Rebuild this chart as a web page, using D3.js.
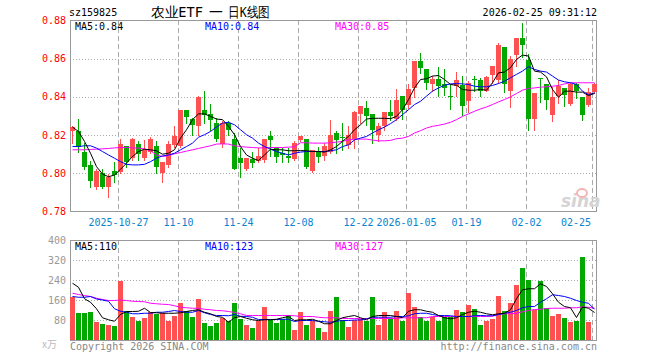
<!DOCTYPE html>
<html><head><meta charset="utf-8">
<script src="https://cdn.jsdelivr.net/npm/d3@7/dist/d3.min.js"></script>
<style>
html,body{margin:0;padding:0;background:#fff;}
svg{display:block;}
text{font-family:"DejaVu Sans Mono",monospace;}
</style></head><body>
<svg id="chart" width="660" height="360"></svg>
<script>
// ---------- DATA ----------
const dates = [
"2025-10-15","2025-10-16","2025-10-17","2025-10-20","2025-10-21","2025-10-22","2025-10-23","2025-10-24","2025-10-27","2025-10-28","2025-10-29","2025-10-30","2025-10-31",
"2025-11-03","2025-11-04","2025-11-05","2025-11-06","2025-11-07","2025-11-10","2025-11-11","2025-11-12","2025-11-13","2025-11-14","2025-11-17","2025-11-18","2025-11-19","2025-11-20","2025-11-21","2025-11-24","2025-11-25","2025-11-26","2025-11-27","2025-11-28",
"2025-12-01","2025-12-02","2025-12-03","2025-12-04","2025-12-05","2025-12-08","2025-12-09","2025-12-10","2025-12-11","2025-12-12","2025-12-15","2025-12-16","2025-12-17","2025-12-18","2025-12-19","2025-12-22","2025-12-23","2025-12-24","2025-12-25","2025-12-26","2025-12-29","2025-12-30","2025-12-31",
"2026-01-05","2026-01-06","2026-01-07","2026-01-08","2026-01-09","2026-01-12","2026-01-13","2026-01-14","2026-01-15","2026-01-16","2026-01-19","2026-01-20","2026-01-21","2026-01-22","2026-01-23","2026-01-26","2026-01-27","2026-01-28","2026-01-29","2026-01-30",
"2026-02-02","2026-02-03","2026-02-04","2026-02-05","2026-02-06","2026-02-09","2026-02-10","2026-02-11","2026-02-12","2026-02-13","2026-02-24","2026-02-25"];

const open  = [.8223,.8223,.8112,.8044,.7930,.8000,.7930,.8012,.8009,.8144,.8079,.8154,.8079,.8114,.8144,.8000,.8044,.8146,.8144,.8333,.8286,.8249,.8333,.8311,.8263,.8154,.8263,.8181,.8079,.8023,.8074,.8065,.8070,.8193,.8132,.8105,.8088,.8074,.8175,.8181,.8012,.8114,.8091,.8111,.8211,.8189,.8146,.8179,.8312,.8342,.8311,.8202,.8246,.8321,.8284,.8407,.8360,.8447,.8586,.8547,.8468,.8495,.8465,.8404,.8456,.8460,.8377,.8496,.8486,.8430,.8516,.8491,.8661,.8430,.8618,.8707,.8591,.8286,.8500,.8465,.8304,.8404,.8444,.8363,.8465,.8398,.8356,.8426];
const high  = [.8246,.8286,.8161,.8065,.8020,.8021,.7996,.8061,.8179,.8144,.8184,.8167,.8175,.8189,.8167,.8061,.8167,.8246,.8333,.8333,.8289,.8407,.8430,.8365,.8289,.8272,.8272,.8211,.8132,.8082,.8114,.8132,.8181,.8223,.8140,.8132,.8132,.8170,.8193,.8181,.8123,.8140,.8158,.8281,.8223,.8263,.8249,.8325,.8354,.8377,.8311,.8263,.8321,.8386,.8442,.8407,.8465,.8586,.8628,.8547,.8512,.8556,.8547,.8465,.8530,.8509,.8482,.8509,.8500,.8509,.8561,.8681,.8661,.8614,.8707,.8789,.8623,.8418,.8500,.8465,.8450,.8486,.8444,.8474,.8474,.8398,.8444,.8474];
const low   = [.8161,.8109,.8021,.7926,.7916,.7921,.7877,.7956,.8000,.8035,.8070,.8070,.8070,.8105,.8000,.7956,.8035,.8140,.8140,.8263,.8202,.8202,.8263,.8228,.8167,.8140,.8202,.8021,.7979,.8018,.8035,.8061,.8061,.8088,.8061,.8061,.8058,.8070,.8167,.8026,.8009,.8061,.8070,.8105,.8105,.8123,.8132,.8132,.8263,.8254,.8161,.8167,.8228,.8281,.8281,.8284,.8342,.8400,.8526,.8439,.8430,.8407,.8412,.8337,.8407,.8307,.8319,.8430,.8404,.8430,.8472,.8474,.8425,.8347,.8561,.8611,.8228,.8228,.8374,.8339,.8272,.8368,.8351,.8360,.8395,.8281,.8351,.8421];
const close = [.8242,.8137,.8035,.7960,.8012,.7930,.7979,.7991,.8154,.8061,.8179,.8100,.8123,.8181,.8035,.8061,.8154,.8193,.8333,.8295,.8254,.8400,.8305,.8277,.8181,.8263,.8225,.8023,.8056,.8082,.8056,.8091,.8181,.8175,.8084,.8096,.8082,.8158,.8193,.8035,.8123,.8084,.8144,.8202,.8175,.8186,.8202,.8321,.8354,.8298,.8225,.8249,.8321,.8302,.8386,.8333,.8442,.8586,.8553,.8474,.8495,.8456,.8446,.8402,.8486,.8354,.8474,.8488,.8430,.8505,.8561,.8670,.8465,.8600,.8707,.8670,.8286,.8418,.8495,.8386,.8398,.8456,.8409,.8468,.8430,.8304,.8426,.8465];
const volume = [174,107,107,111,71,65,62,58,238,118,91,75,89,111,105,107,78,98,147,115,91,163,67,58,67,89,75,147,86,62,47,75,134,81,67,85,102,42,111,62,75,47,31,118,171,81,54,81,85,75,171,62,111,89,118,75,187,131,94,75,94,75,94,94,122,111,142,126,62,75,86,178,118,147,222,288,242,122,235,129,98,106,89,71,75,331,71,2];

// moving averages as drawn in the picture
const ma5  = [.8242,.8219,.8167,.8105,.8035,.7996,.7982,.7991,.8021,.8053,.8088,.8114,.8126,.8123,.8118,.8100,.8105,.8123,.8184,.8228,.8281,.8311,.8311,.8298,.8284,.8281,.8246,.8202,.8140,.8096,.8079,.8067,.8096,.8126,.8123,.8123,.8118,.8118,.8119,.8118,.8114,.8114,.8111,.8123,.8140,.8167,.8193,.8228,.8254,.8284,.8288,.8288,.8288,.8286,.8298,.8333,.8386,.8447,.8491,.8495,.8509,.8512,.8491,.8465,.8461,.8439,.8435,.8435,.8439,.8435,.8474,.8526,.8530,.8553,.8596,.8619,.8614,.8535,.8530,.8505,.8439,.8398,.8430,.8430,.8425,.8425,.8407,.8418];
const ma10 = [.8140,.8140,.8144,.8144,.8132,.8114,.8096,.8079,.8061,.8047,.8044,.8044,.8047,.8061,.8079,.8091,.8096,.8105,.8123,.8140,.8158,.8189,.8202,.8219,.8242,.8263,.8267,.8254,.8228,.8202,.8184,.8158,.8140,.8126,.8114,.8105,.8096,.8105,.8111,.8114,.8114,.8114,.8114,.8118,.8123,.8140,.8149,.8175,.8184,.8193,.8211,.8228,.8242,.8260,.8281,.8307,.8333,.8360,.8377,.8404,.8430,.8447,.8461,.8468,.8470,.8468,.8465,.8456,.8453,.8453,.8460,.8470,.8482,.8500,.8518,.8535,.8558,.8544,.8535,.8530,.8509,.8488,.8479,.8474,.8465,.8430,.8412,.8421];
const ma30 = [.8123,.8123,.8123,.8125,.8126,.8128,.8130,.8133,.8135,.8135,.8133,.8132,.8128,.8118,.8096,.8088,.8093,.8102,.8109,.8116,.8123,.8130,.8137,.8144,.8153,.8154,.8153,.8144,.8140,.8137,.8135,.8133,.8133,.8135,.8135,.8135,.8137,.8139,.8160,.8160,.8158,.8158,.8158,.8160,.8163,.8167,.8175,.8179,.8179,.8179,.8174,.8170,.8170,.8172,.8181,.8184,.8193,.8211,.8223,.8237,.8246,.8251,.8258,.8267,.8281,.8298,.8311,.8325,.8337,.8347,.8360,.8374,.8386,.8400,.8418,.8435,.8444,.8447,.8451,.8453,.8456,.8460,.8468,.8474,.8474,.8474,.8474,.8474];
const vma5  = [227,211,165,151,125,89,81,75,102,114,114,115,127,110,109,107,107,107,109,114,118,121,111,105,94,91,71,89,94,87,81,78,81,81,83,89,94,78,81,81,83,75,65,65,78,89,94,98,89,81,94,98,98,98,94,89,115,121,121,115,111,98,89,85,89,102,111,115,111,105,101,105,107,121,165,201,205,205,225,214,185,151,134,129,90,132,127,110];
const vma10 = [174,171,171,174,164,160,155,125,115,111,105,105,107,107,111,111,114,118,114,111,111,118,109,102,98,98,97,102,95,94,91,82,82,82,82,83,83,74,78,78,78,75,73,71,75,78,78,80,80,85,91,91,91,91,94,94,97,105,107,107,102,98,98,97,94,94,94,97,98,97,97,102,107,111,118,129,134,134,151,165,181,178,174,167,158,151,147,123];
const vma30 = [187,182,178,174,167,162,158,158,160,158,155,154,153,147,145,143,142,137,131,129,127,127,123,121,118,117,114,110,105,98,98,98,98,98,98,98,98,97,94,94,94,91,89,89,89,86,86,86,86,86,86,86,86,86,86,89,89,89,89,89,94,94,94,94,94,94,94,94,94,94,95,102,105,105,107,113,118,122,123,126,127,127,127,129,129,133,131,127];

const priceTicks = [0.88,0.86,0.84,0.82,0.80,0.78];
const volTicks   = [400,320,240,160,80];
const tickDates  = ["2025-10-27","2025-11-10","2025-11-24","2025-12-08","2025-12-22","2026-01-05","2026-01-19","2026-02-02","2026-02-25"];
const tickLabels = ["2025-10-27","11-10","11-24","12-08","12-22","2026-01-05","01-19","02-02","02-25"];

const code = "sz159825", titleParts = ["农业ETF", "一", "日K线图"], stamp = "2026-02-25 09:31:12";

// ---------- DRAW ----------
const svg = d3.select("#chart");
const L = 70, R = 598;
const UP = "#ff5151", DN = "#00a800";
const idx = d3.range(dates.length);
const x = d3.scaleBand().domain(idx).range([L, R]).paddingInner(0).paddingOuter(0);
const cx = i => x(i) + 2.5;
const y = d3.scaleLinear().domain([0.78, 0.88]).range([211.5, 20.5]);
const yv = d3.scaleLinear().domain([0, 400]).range([340, 240]);
const col = i => close[i] >= open[i] ? UP : DN;

// header
svg.append("text").attr("x", 69).attr("y", 16).attr("font-size", 10).attr("fill", "#000").text(code);
const tg = svg.append("g").style("font-family", "'Noto Sans CJK SC',sans-serif").attr("fill", "#000");
tg.append("text").attr("x", 151).attr("y", 17).attr("font-size", 14).attr("textLength", 52).attr("lengthAdjust", "spacingAndGlyphs").text(titleParts[0]);
tg.append("text").attr("x", 209).attr("y", 17).attr("font-size", 14).text(titleParts[1]);
tg.append("text").attr("x", 228).attr("y", 17).attr("font-size", 14).attr("textLength", 42).attr("lengthAdjust", "spacingAndGlyphs").text(titleParts[2]);
svg.append("text").attr("x", 597).attr("y", 16).attr("font-size", 10).attr("text-anchor", "end").attr("fill", "#000").text(stamp);

function panel(yScale, ticks, top, bottom, tickColor, fmt) {
  const g = svg.append("g");
  g.selectAll(".hg").data(ticks.filter(t => Math.round(yScale(t)) > top + 1 && Math.round(yScale(t)) < bottom - 1))
    .enter().append("line")
    .attr("x1", L).attr("x2", R - 1)
    .attr("y1", d => Math.round(yScale(d)) + 0.5).attr("y2", d => Math.round(yScale(d)) + 0.5)
    .attr("stroke", "#aaa").attr("stroke-dasharray", "1,2").attr("shape-rendering", "crispEdges");
  g.selectAll(".vg").data(tickDates).enter().append("line")
    .attr("x1", d => x(dates.indexOf(d)) + 0.5).attr("x2", d => x(dates.indexOf(d)) + 0.5)
    .attr("y1", top).attr("y2", bottom)
    .attr("stroke", "#aaa").attr("stroke-dasharray", "5,3").attr("shape-rendering", "crispEdges");
  g.selectAll(".tl").data(ticks).enter().append("text")
    .attr("x", 66).attr("y", d => yScale(d) + 3.5).attr("text-anchor", "end")
    .attr("font-size", 10).attr("fill", tickColor).text(fmt);
  g.append("rect").attr("x", L + 0.5).attr("y", top + 0.5).attr("width", R - L - 2).attr("height", bottom - top - 1)
    .attr("fill", "none").attr("stroke", "#999").attr("shape-rendering", "crispEdges");
  return g;
}

// price panel
panel(y, priceTicks, 20, 212, "#f00", d => d.toFixed(2));
const gc = svg.append("g");
gc.selectAll(".wick").data(idx).enter().append("line")
  .attr("x1", cx).attr("x2", cx)
  .attr("y1", i => Math.round(y(high[i]))).attr("y2", i => Math.round(y(low[i])) + 1)
  .attr("stroke", col).attr("shape-rendering", "crispEdges");
gc.selectAll(".body").data(idx).enter().append("rect")
  .attr("x", i => x(i)).attr("width", x.bandwidth() - 1)
  .attr("y", i => Math.round(y(Math.max(open[i], close[i]))))
  .attr("height", i => Math.max(1, Math.round(y(Math.min(open[i], close[i]))) - Math.round(y(Math.max(open[i], close[i])))))
  .attr("fill", col).attr("shape-rendering", "crispEdges");

const lineP = d3.line().x((d, i) => cx(i)).y(d => y(d));
[[ma30, "#ff00ff"], [ma10, "#0000ff"], [ma5, "#000"]].forEach(([arr, c]) => {
  svg.append("path").datum(arr).attr("d", lineP).attr("fill", "none").attr("stroke", c).attr("stroke-width", 1);
});
svg.append("text").attr("x", 75).attr("y", 30).attr("font-size", 10).attr("fill", "#000").text("MA5:" + ma5[ma5.length - 1].toFixed(2));
svg.append("text").attr("x", 205).attr("y", 30).attr("font-size", 10).attr("fill", "#0000ff").text("MA10:" + ma10[ma10.length - 1].toFixed(2));
svg.append("text").attr("x", 335).attr("y", 30).attr("font-size", 10).attr("fill", "#ff00ff").text("MA30:" + ma30[ma30.length - 1].toFixed(2));

// sina watermark
const wm = svg.append("g");
wm.append("text").attr("x", 561).attr("y", 207).attr("font-size", 17).attr("font-weight", "bold").attr("font-style", "italic")
  .style("font-family", "'DejaVu Sans',sans-serif").attr("fill", "#d4d4d4").text("sina");
wm.append("ellipse").attr("cx", 582).attr("cy", 193).attr("rx", 5).attr("ry", 4).attr("fill", "none").attr("stroke", "#f4b4b4").attr("stroke-width", 2);

// x labels
svg.selectAll(".xl").data(tickDates).enter().append("text")
  .attr("x", (d, k) => {
    const c = x(dates.indexOf(d)) + 0.5;
    const w = tickLabels[k].length * 6.02;
    return Math.min(c, 591 - w / 2);
  })
  .attr("y", 226).attr("text-anchor", "middle").attr("font-size", 10).attr("fill", "#0a84d0")
  .text((d, k) => tickLabels[k]);

// volume panel
panel(yv, volTicks, 240, 341, "#999", d => d);
svg.append("g").selectAll("rect").data(idx).enter().append("rect")
  .attr("x", i => x(i)).attr("width", x.bandwidth() - 1)
  .attr("y", i => Math.round(yv(volume[i])))
  .attr("height", i => Math.max(0, 340 - Math.round(yv(volume[i]))))
  .attr("fill", col).attr("shape-rendering", "crispEdges");
const lineV = d3.line().x((d, i) => cx(i)).y(d => yv(d));
[[vma30, "#ff00ff"], [vma10, "#0000ff"], [vma5, "#000"]].forEach(([arr, c]) => {
  svg.append("path").datum(arr).attr("d", lineV).attr("fill", "none").attr("stroke", c).attr("stroke-width", 1);
});
svg.append("text").attr("x", 75).attr("y", 250).attr("font-size", 10).attr("fill", "#000").text("MA5:" + vma5[vma5.length - 1]);
svg.append("text").attr("x", 205).attr("y", 250).attr("font-size", 10).attr("fill", "#0000ff").text("MA10:" + vma10[vma10.length - 1]);
svg.append("text").attr("x", 335).attr("y", 250).attr("font-size", 10).attr("fill", "#ff00ff").text("MA30:" + vma30[vma30.length - 1]);

// footer
svg.append("text").attr("x", 42).attr("y", 348).attr("font-size", 10).attr("fill", "#bbb")
  .style("font-family", "'Noto Sans CJK SC',sans-serif").text("x万");
svg.append("text").attr("x", 70).attr("y", 350).attr("font-size", 10).attr("fill", "#888").text("Copyright 2026 SINA.COM");
svg.append("text").attr("x", 597).attr("y", 350).attr("font-size", 10).attr("text-anchor", "end").attr("fill", "#888").text("http://finance.sina.com.cn");
</script>
</body></html>
